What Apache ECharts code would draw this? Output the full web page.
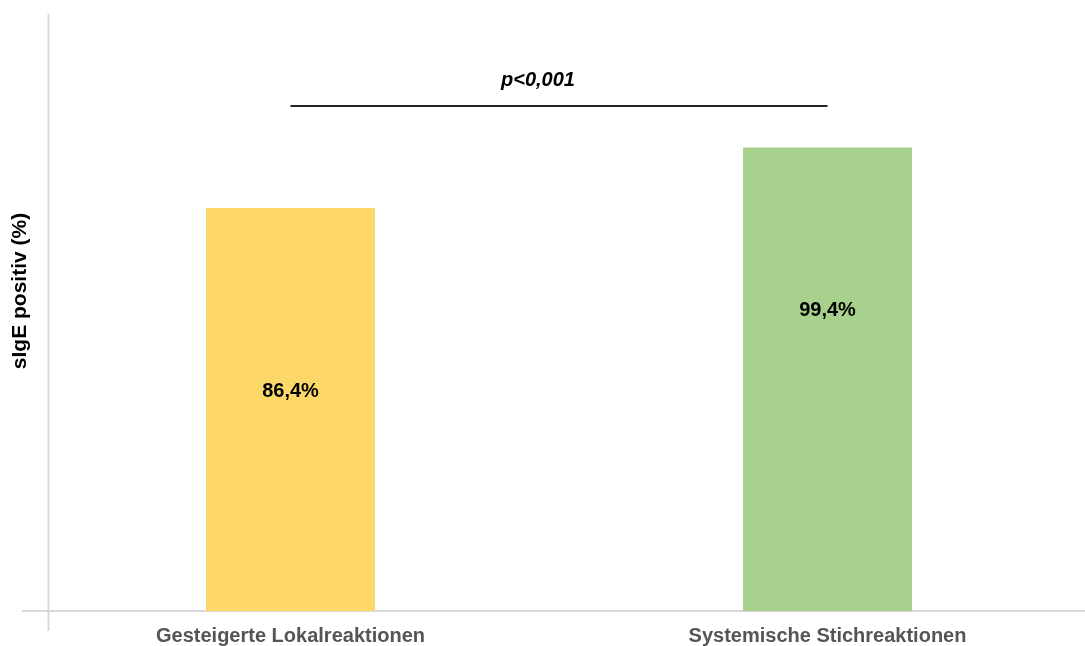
<!DOCTYPE html>
<html>
<head>
<meta charset="utf-8">
<script src="https://cdn.jsdelivr.net/npm/echarts@6/dist/echarts.min.js"></script>
<style>
  html, body { margin: 0; padding: 0; background: #fff; }
  #chart { width: 1085px; height: 646px; }
</style>
</head>
<body>
<div id="chart"></div>
<script>
var categories = ['Gesteigerte Lokalreaktionen', 'Systemische Stichreaktionen'];
var values = [86.4, 99.4];
var barColors = ['#FDD868', '#A9D18E'];
var pLabel = 'p<0,001';
var pLevel = 108.3;

var myChart = echarts.init(document.getElementById('chart'));

var option = {
  animation: false,
  // categories sit on the grid edges, so the grid runs between bar centres
  grid: { left: 290.5, right: 257.5, top: 14, bottom: 35 },
  xAxis: {
    type: 'category',
    data: categories,
    boundaryGap: false,
    axisLine: { show: false },
    axisTick: { show: false },
    axisLabel: {
      margin: 15,
      color: '#555555',
      fontFamily: 'Liberation Sans, Arial',
      fontWeight: 'bold',
      fontSize: 20
    }
  },
  yAxis: {
    type: 'value',
    min: 0,
    max: 128,
    axisLine: { show: false },
    axisTick: { show: false },
    axisLabel: { show: false },
    splitLine: { show: false }
  },
  graphic: [
    {
      type: 'line',
      shape: { x1: 22, y1: 611, x2: 1085, y2: 611 },
      style: { stroke: '#d9d9d9', lineWidth: 2 }
    },
    {
      type: 'line',
      shape: { x1: 48.5, y1: 14, x2: 48.5, y2: 631 },
      style: { stroke: '#d9d9d9', lineWidth: 2 }
    },
    {
      type: 'text',
      x: 20,
      y: 291,
      rotation: Math.PI / 2,
      style: {
        text: 'sIgE positiv (%)',
        fill: '#000',
        font: 'bold 21px "Liberation Sans", Arial',
        align: 'center',
        verticalAlign: 'middle'
      }
    }
  ],
  series: [{
    type: 'bar',
    barWidth: 169,
    clip: false,
    data: values.map(function (v, i) {
      return {
        value: v,
        itemStyle: { color: barColors[i] },
        label: { offset: i === 0 ? [0, -18] : [0, -69] }
      };
    }),
    label: {
      show: true,
      position: 'inside',
      color: '#000',
      fontFamily: 'Liberation Sans, Arial',
      fontWeight: 'bold',
      fontSize: 20,
      formatter: function (p) { return p.value.toFixed(1).replace('.', ',') + '%'; }
    },
    markLine: {
      silent: true,
      symbol: ['none', 'none'],
      lineStyle: { color: '#262626', width: 2, type: 'solid' },
      label: {
        show: true,
        position: 'middle',
        distance: 15,
        offset: [-21, 0],
        formatter: pLabel,
        color: '#000',
        fontFamily: 'Liberation Sans, Arial',
        fontWeight: 'bold',
        fontStyle: 'italic',
        fontSize: 20
      },
      data: [[
        { coord: [0, pLevel] },
        { coord: [1, pLevel] }
      ]]
    }
  }]
};

myChart.setOption(option);
</script>
</body>
</html>
